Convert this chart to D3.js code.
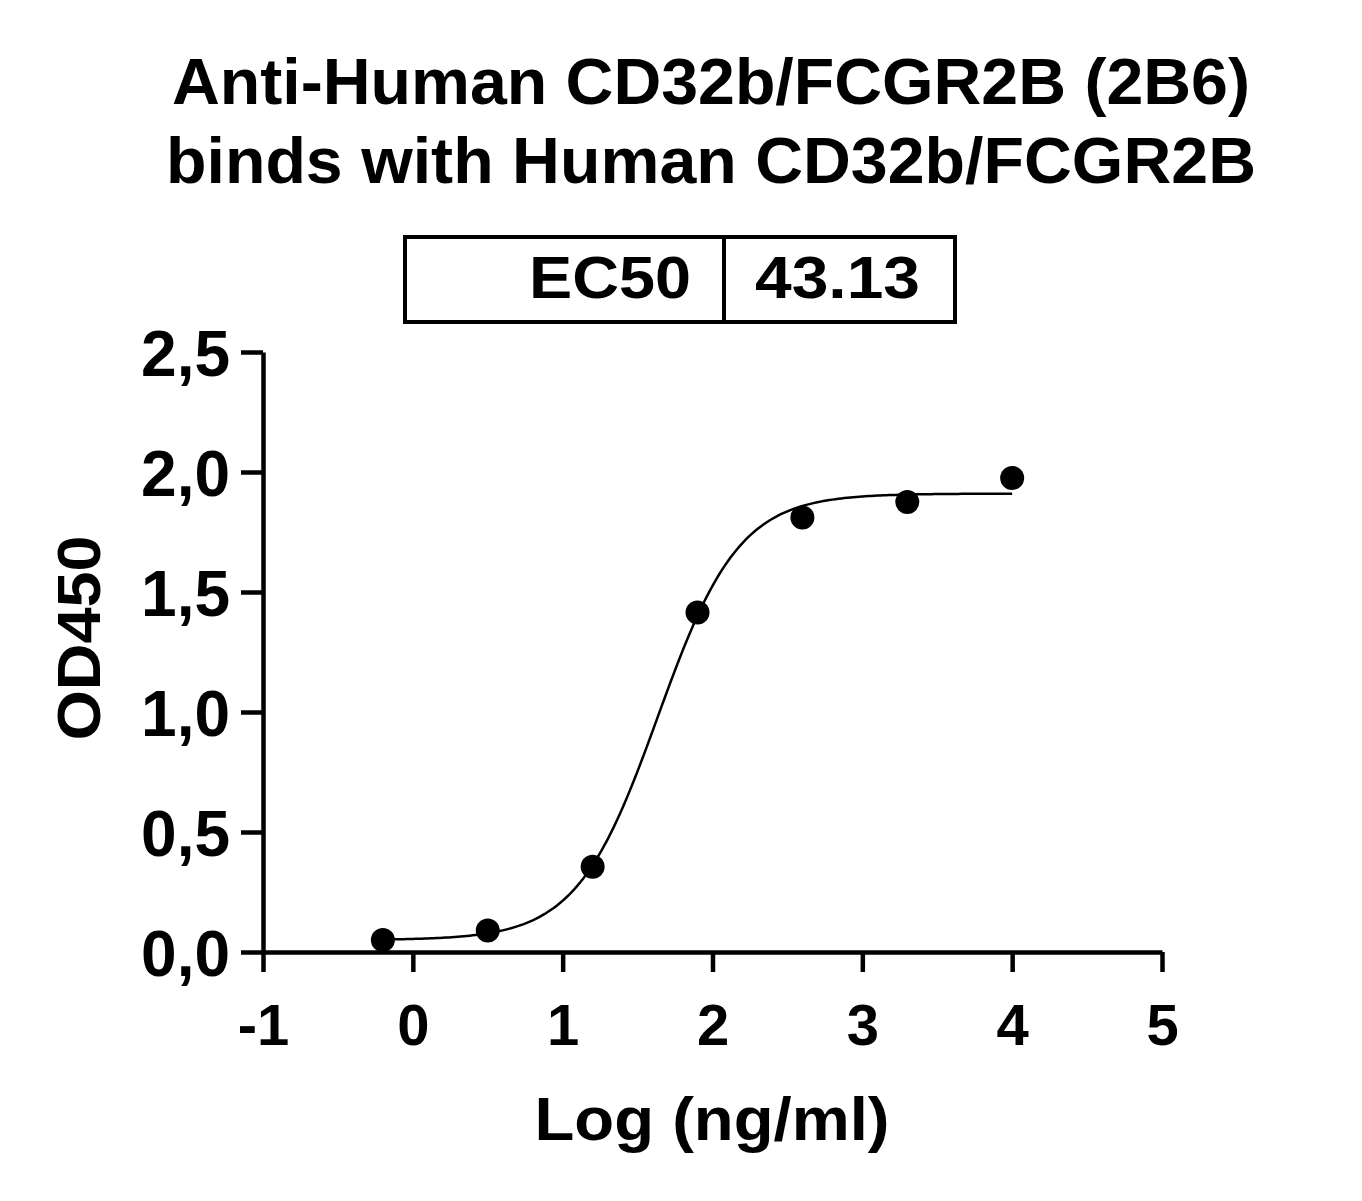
<!DOCTYPE html>
<html lang="en">
  <head>
    <meta charset="UTF-8" />
    <title>EC50 binding curve</title>
    <script src="https://d3js.org/d3.v7.min.js"></script>
    <style>
      body { margin: 0; background: #fff; }
      text { font-family: "Liberation Sans", Arial, sans-serif; font-weight: bold; fill: #000; }
    </style>
  </head>
  <body>
    <svg width="1362" height="1201"></svg>

    <script>
      // data
      const titleLines = ["Anti-Human CD32b/FCGR2B (2B6)", "binds with Human CD32b/FCGR2B"];
      const logConc = [-0.2, 0.5, 1.2, 1.9, 2.6, 3.3, 4.0];
      const od450 = [0.05, 0.09, 0.355, 1.415, 1.81, 1.875, 1.975];
      const xTicks = [-1, 0, 1, 2, 3, 4, 5];
      const yTicks = [0, 0.5, 1.0, 1.5, 2.0, 2.5];
      const ec50 = 43.13;
      // 4PL fit parameters
      const fitBottom = 0.05;
      const fitTop = 1.91;
      const fitHill = 1.6;

      const svg = d3.select("svg");
      svg.append("rect").attr("width", 1362).attr("height", 1201).attr("fill", "#fff");

      const x = d3.scaleLinear().domain([-1, 5]).range([263, 1162]);
      const y = d3.scaleLinear().domain([0, 2.5]).range([952, 352]);

      // title
      const titleY = [104, 183];
      const titleW = [1078, 1090];
      titleLines.forEach((t, i) => {
        svg.append("text")
          .attr("x", 711)
          .attr("y", titleY[i])
          .attr("text-anchor", "middle")
          .attr("font-size", 64)
          .attr("textLength", titleW[i])
          .attr("lengthAdjust", "spacingAndGlyphs")
          .text(t);
      });

      // EC50 box
      const box = svg.append("g");
      box.append("rect")
        .attr("x", 405).attr("y", 237)
        .attr("width", 550).attr("height", 85)
        .attr("fill", "none").attr("stroke", "#000").attr("stroke-width", 4);
      box.append("line")
        .attr("x1", 724).attr("x2", 724).attr("y1", 237).attr("y2", 322)
        .attr("stroke", "#000").attr("stroke-width", 4);
      box.append("text")
        .attr("x", 691).attr("y", 298)
        .attr("text-anchor", "end")
        .attr("font-size", 60)
        .attr("textLength", 162)
        .attr("lengthAdjust", "spacingAndGlyphs")
        .text("EC50");
      box.append("text")
        .attr("x", 755).attr("y", 298)
        .attr("font-size", 60)
        .attr("textLength", 165)
        .attr("lengthAdjust", "spacingAndGlyphs")
        .text(ec50.toFixed(2));

      // axes
      const xAxis = svg.append("g")
        .attr("transform", `translate(0,${y(0)})`)
        .call(d3.axisBottom(x).tickValues(xTicks).tickSize(20).tickSizeOuter(0)
          .tickFormat(d => String(d)));
      const yAxis = svg.append("g")
        .attr("transform", `translate(${x(-1)},0)`)
        .call(d3.axisLeft(y).tickValues(yTicks).tickSize(22).tickSizeOuter(0)
          .tickFormat(d => d3.format(".1f")(d).replace(".", ",")));

      [xAxis, yAxis].forEach(a => {
        a.select(".domain").attr("stroke", "#000").attr("stroke-width", 4.5);
        a.selectAll(".tick line").attr("stroke", "#000").attr("stroke-width", 4.5);
        a.selectAll(".tick text").attr("font-family", null).attr("font-size", null);
      });
      xAxis.selectAll(".tick text")
        .attr("font-size", 58)
        .attr("dy", null)
        .attr("y", 93);
      yAxis.selectAll(".tick text")
        .attr("font-size", 64)
        .attr("x", -33)
        .attr("dy", "0.36em");

      // axis titles
      svg.append("text")
        .attr("x", 712).attr("y", 1140)
        .attr("text-anchor", "middle")
        .attr("font-size", 62)
        .attr("textLength", 355)
        .attr("lengthAdjust", "spacingAndGlyphs")
        .text("Log (ng/ml)");
      svg.append("text")
        .attr("transform", "translate(100,638) rotate(-90)")
        .attr("text-anchor", "middle")
        .attr("font-size", 62)
        .attr("textLength", 205)
        .attr("lengthAdjust", "spacingAndGlyphs")
        .text("OD450");

      // fitted curve
      const logEC50 = Math.log10(ec50);
      const fit = v => fitBottom + (fitTop - fitBottom) / (1 + Math.pow(10, (logEC50 - v) * fitHill));
      const curveX = d3.range(logConc[0], logConc[logConc.length - 1] + 0.001, 0.02);
      svg.append("path")
        .datum(curveX)
        .attr("fill", "none")
        .attr("stroke", "#000")
        .attr("stroke-width", 2.5)
        .attr("d", d3.line().x(d => x(d)).y(d => y(fit(d))));

      // points
      svg.append("g")
        .selectAll("circle")
        .data(logConc.map((c, i) => [c, od450[i]]))
        .join("circle")
        .attr("cx", d => x(d[0]))
        .attr("cy", d => y(d[1]))
        .attr("r", 12)
        .attr("fill", "#000");
    </script>
  </body>
</html>
